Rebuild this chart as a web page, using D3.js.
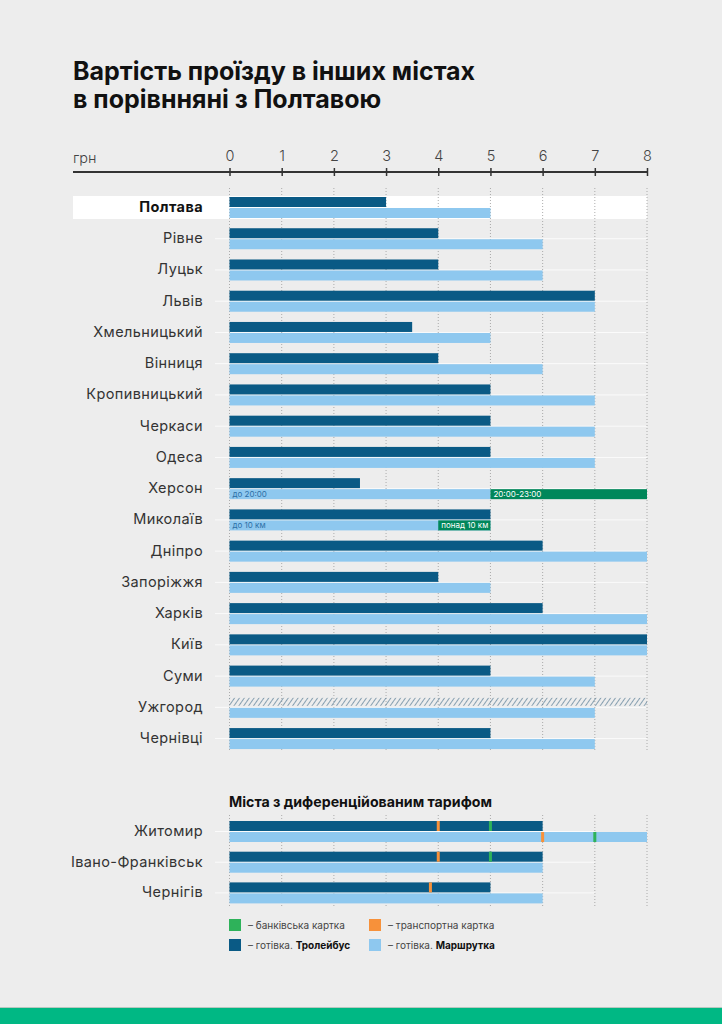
<!DOCTYPE html>
<html>
<head>
<meta charset="utf-8">
<script src="https://cdn.jsdelivr.net/npm/d3@7"></script>
<style>
  body { margin: 0; background: #ededed; }
  svg { display: block; font-family: "Inter", "Noto Sans", sans-serif; }
</style>
</head>
<body>
<div id="chart"></div>
<script>
// Data
const cities = ["Полтава", "Рівне", "Луцьк", "Львів", "Хмельницький", "Вінниця", "Кропивницький",
    "Черкаси", "Одеса", "Херсон", "Миколаїв", "Дніпро", "Запоріжжя", "Харків", "Київ", "Суми",
    "Ужгород", "Чернівці"];
const trolleybus = [3, 4, 4, 7, 3.5, 4, 5, 5, 5, 2.5, 5, 6, 4, 6, 8, 5, null, 5];
const marshrutka = [5, 6, 6, 7, 5, 6, 7, 7, 7, 5, 5, 8, 5, 8, 8, 7, 7, 7];
const extraCity = ["Херсон", "Миколаїв"];
const extraFrom = [5, 4];
const extraTo = [8, 5];
const extraLabel = ["20:00-23:00", "понад 10 км"];
const baseLabel = ["до 20:00", "до 10 км"];

const diffCities = ["Житомир", "Івано-Франківськ", "Чернігів"];
const diffTrolley = [6, 6, 5];
const diffMarsh = [8, 6, 6];
const trolleyTransportCard = [4, 4, 3.85];
const trolleyBankCard = [5, 5, null];
const marshTransportCard = [6, null, null];
const marshBankCard = [7, null, null];

const ticks = [0, 1, 2, 3, 4, 5, 6, 7, 8];

const colDark = "#0a5a85", colLight = "#8ec8ef", colGreen = "#00875a";
const colBank = "#2eb25a", colCard = "#f7913a";

// Dimensions
const width = 722, height = 1024;
const left = 73, right = 647;

const svg = d3.select("#chart").append("svg")
    .attr("width", width)
    .attr("height", height);

svg.append("rect").attr("width", width).attr("height", height).attr("fill", "#ededed");

// Title
svg.append("text").attr("x", 73).attr("y", 80)
    .attr("font-size", 25).attr("font-weight", 700).attr("fill", "#111")
    .text("Вартість проїзду в інших містах");
svg.append("text").attr("x", 73).attr("y", 108)
    .attr("font-size", 25).attr("font-weight", 700).attr("fill", "#111")
    .text("в порівнняні з Полтавою");

// Scales
const x = d3.scaleLinear().domain([0, 8]).range([229.5, 647]);

const y = d3.scaleBand()
    .domain(cities)
    .range([197, 197 + 31.24 * cities.length]);

const y2 = d3.scaleBand()
    .domain(diffCities)
    .range([821, 821 + 30.7 * diffCities.length]);

const barH = 10;

// Axis
svg.append("line")
    .attr("x1", left).attr("x2", right)
    .attr("y1", 172).attr("y2", 172)
    .attr("stroke", "#333").attr("stroke-width", 2);

const ax = svg.append("g")
    .attr("transform", "translate(0,172)")
    .call(d3.axisTop(x).tickValues(ticks).tickSize(4).tickPadding(7));
ax.select(".domain").remove();
ax.selectAll(".tick line").attr("y2", 4).attr("y1", -4).attr("stroke", "#333").attr("stroke-width", 1.5);
ax.selectAll(".tick text").attr("font-size", 14.5).attr("fill", "#444")
    .attr("font-family", "Inter, sans-serif").attr("font-weight", 300);

svg.append("text").attr("x", 73).attr("y", 163)
    .attr("font-size", 14.5).attr("font-weight", 300).attr("fill", "#444").text("грн");

// Highlight Poltava
svg.append("rect")
    .attr("x", left).attr("width", right - left)
    .attr("y", y("Полтава") - 1).attr("height", 2 * barH + 3)
    .attr("fill", "#fff");

// Row separators
svg.selectAll(".sep")
    .data(cities)
    .enter().append("line")
    .attr("x1", 215).attr("x2", right)
    .attr("y1", d => y(d) + barH + 0.5).attr("y2", d => y(d) + barH + 0.5)
    .attr("stroke", "#fff").attr("stroke-width", 1).attr("opacity", 0.8);

// Gridlines
svg.selectAll(".grid")
    .data(ticks)
    .enter().append("line")
    .attr("x1", d => x(d)).attr("x2", d => x(d))
    .attr("y1", 188).attr("y2", 752)
    .attr("stroke", "#999").attr("stroke-width", 0.8)
    .attr("stroke-dasharray", "1,2");

svg.selectAll(".grid2")
    .data(ticks)
    .enter().append("line")
    .attr("x1", d => x(d)).attr("x2", d => x(d))
    .attr("y1", 815).attr("y2", 908)
    .attr("stroke", "#999").attr("stroke-width", 0.8)
    .attr("stroke-dasharray", "1,2");

// Hatch pattern
const defs = svg.append("defs");
const pat = defs.append("pattern")
    .attr("id", "hatch").attr("patternUnits", "userSpaceOnUse")
    .attr("width", 4).attr("height", 4)
    .attr("patternTransform", "rotate(35)");
pat.append("line").attr("x1", 0).attr("x2", 0).attr("y1", 0).attr("y2", 4)
    .attr("stroke", "#4f7590").attr("stroke-width", 1.3);

// City labels
svg.selectAll(".city")
    .data(cities)
    .enter().append("text")
    .attr("x", 203)
    .attr("y", d => y(d) + barH + 5)
    .attr("text-anchor", "end")
    .attr("font-size", 14.5)
    .attr("letter-spacing", 0.4)
    .attr("font-weight", d => d === "Полтава" ? 700 : 400)
    .attr("fill", d => d === "Полтава" ? "#111" : "#333")
    .text(d => d);

// Trolleybus bars
svg.selectAll(".troll")
    .data(cities.map((c, i) => ({ c, v: trolleybus[i] })).filter(d => d.v !== null))
    .enter().append("rect")
    .attr("x", x(0)).attr("y", d => y(d.c))
    .attr("width", d => x(d.v) - x(0)).attr("height", barH)
    .attr("fill", colDark);

// Hatched (no trolleybus)
svg.selectAll(".hatch")
    .data(cities.map((c, i) => ({ c, v: trolleybus[i] })).filter(d => d.v === null))
    .enter().append("rect")
    .attr("x", x(0)).attr("y", d => y(d.c) + 1)
    .attr("width", x(8) - x(0)).attr("height", barH - 2)
    .attr("fill", "url(#hatch)");

// Marshrutka bars
svg.selectAll(".marsh")
    .data(cities.map((c, i) => ({ c, v: marshrutka[i] })))
    .enter().append("rect")
    .attr("x", x(0)).attr("y", d => y(d.c) + barH + 1)
    .attr("width", d => x(d.v) - x(0)).attr("height", barH)
    .attr("fill", colLight);

// Extra segments
const extras = extraCity.map((c, i) => ({ c, from: extraFrom[i], to: extraTo[i], label: extraLabel[i], base: baseLabel[i] }));
svg.selectAll(".extra")
    .data(extras)
    .enter().append("rect")
    .attr("x", d => x(d.from)).attr("y", d => y(d.c) + barH + 1)
    .attr("width", d => x(d.to) - x(d.from)).attr("height", barH)
    .attr("fill", colGreen);
svg.selectAll(".extraLbl")
    .data(extras)
    .enter().append("text")
    .attr("x", d => x(d.from) + 3).attr("y", d => y(d.c) + barH + 9)
    .attr("font-size", 8).attr("fill", "#fff")
    .text(d => d.label);
svg.selectAll(".baseLbl")
    .data(extras)
    .enter().append("text")
    .attr("x", x(0) + 3).attr("y", d => y(d.c) + barH + 9)
    .attr("font-size", 8).attr("fill", "#2d6fa6")
    .text(d => d.base);

// Differentiated section
svg.append("text").attr("x", 229).attr("y", 807)
    .attr("font-size", 14.2).attr("font-weight", 700).attr("fill", "#111")
    .text("Міста з диференційованим тарифом");

const diff = diffCities.map((c, i) => ({
    c, t: diffTrolley[i], m: diffMarsh[i],
    tc: trolleyTransportCard[i], tb: trolleyBankCard[i],
    mc: marshTransportCard[i], mb: marshBankCard[i]
}));

svg.selectAll(".dsep")
    .data(diff)
    .enter().append("line")
    .attr("x1", 215).attr("x2", x(7))
    .attr("y1", d => y2(d.c) + barH + 0.5).attr("y2", d => y2(d.c) + barH + 0.5)
    .attr("stroke", "#fff").attr("stroke-width", 1).attr("opacity", 0.8);

svg.selectAll(".dcity")
    .data(diff)
    .enter().append("text")
    .attr("x", 203).attr("y", d => y2(d.c) + barH + 5)
    .attr("text-anchor", "end").attr("font-size", 14.5).attr("letter-spacing", 0.4).attr("fill", "#333")
    .text(d => d.c);

svg.selectAll(".dt")
    .data(diff)
    .enter().append("rect")
    .attr("x", x(0)).attr("y", d => y2(d.c))
    .attr("width", d => x(d.t) - x(0)).attr("height", barH)
    .attr("fill", colDark);

svg.selectAll(".dm")
    .data(diff)
    .enter().append("rect")
    .attr("x", x(0)).attr("y", d => y2(d.c) + barH + 1)
    .attr("width", d => x(d.m) - x(0)).attr("height", barH)
    .attr("fill", colLight);

const markers = [];
diff.forEach(d => {
    if (d.tc !== null) markers.push({ c: d.c, v: d.tc, row: 0, col: colCard });
    if (d.tb !== null) markers.push({ c: d.c, v: d.tb, row: 0, col: colBank });
    if (d.mc !== null) markers.push({ c: d.c, v: d.mc, row: 1, col: colCard });
    if (d.mb !== null) markers.push({ c: d.c, v: d.mb, row: 1, col: colBank });
});
svg.selectAll(".mk")
    .data(markers)
    .enter().append("rect")
    .attr("x", d => x(d.v) - 1.5)
    .attr("y", d => y2(d.c) + d.row * (barH + 1))
    .attr("width", 3).attr("height", barH)
    .attr("fill", d => d.col);

// Legend
const legendCols = [colBank, colCard, colDark, colLight];
const legendText = ["банківська картка", "транспортна картка", "готівка. ", "готівка. "];
const legendBold = ["", "", "Тролейбус", "Маршрутка"];
const lg = svg.selectAll(".lg")
    .data(legendCols.map((c, i) => ({ c, t: legendText[i], b: legendBold[i], i })))
    .enter().append("g")
    .attr("transform", d => `translate(${d.i % 2 === 0 ? 229 : 369},${d.i < 2 ? 919 : 939})`);
lg.append("rect").attr("width", 12).attr("height", 12).attr("fill", d => d.c);
const lt = lg.append("text").attr("x", 19).attr("y", 10)
    .attr("font-size", 10).attr("fill", "#444");
lt.append("tspan").text(d => "–  " + d.t);
lt.append("tspan").attr("font-weight", 700).attr("fill", "#111").text(d => d.b);

// Bottom band
svg.append("rect").attr("x", 0).attr("y", 1007).attr("width", width).attr("height", 1)
    .attr("fill", "#b8c8c0");
svg.append("rect").attr("x", 0).attr("y", 1008).attr("width", width).attr("height", 16)
    .attr("fill", "#00b884");
</script>
</body>
</html>
